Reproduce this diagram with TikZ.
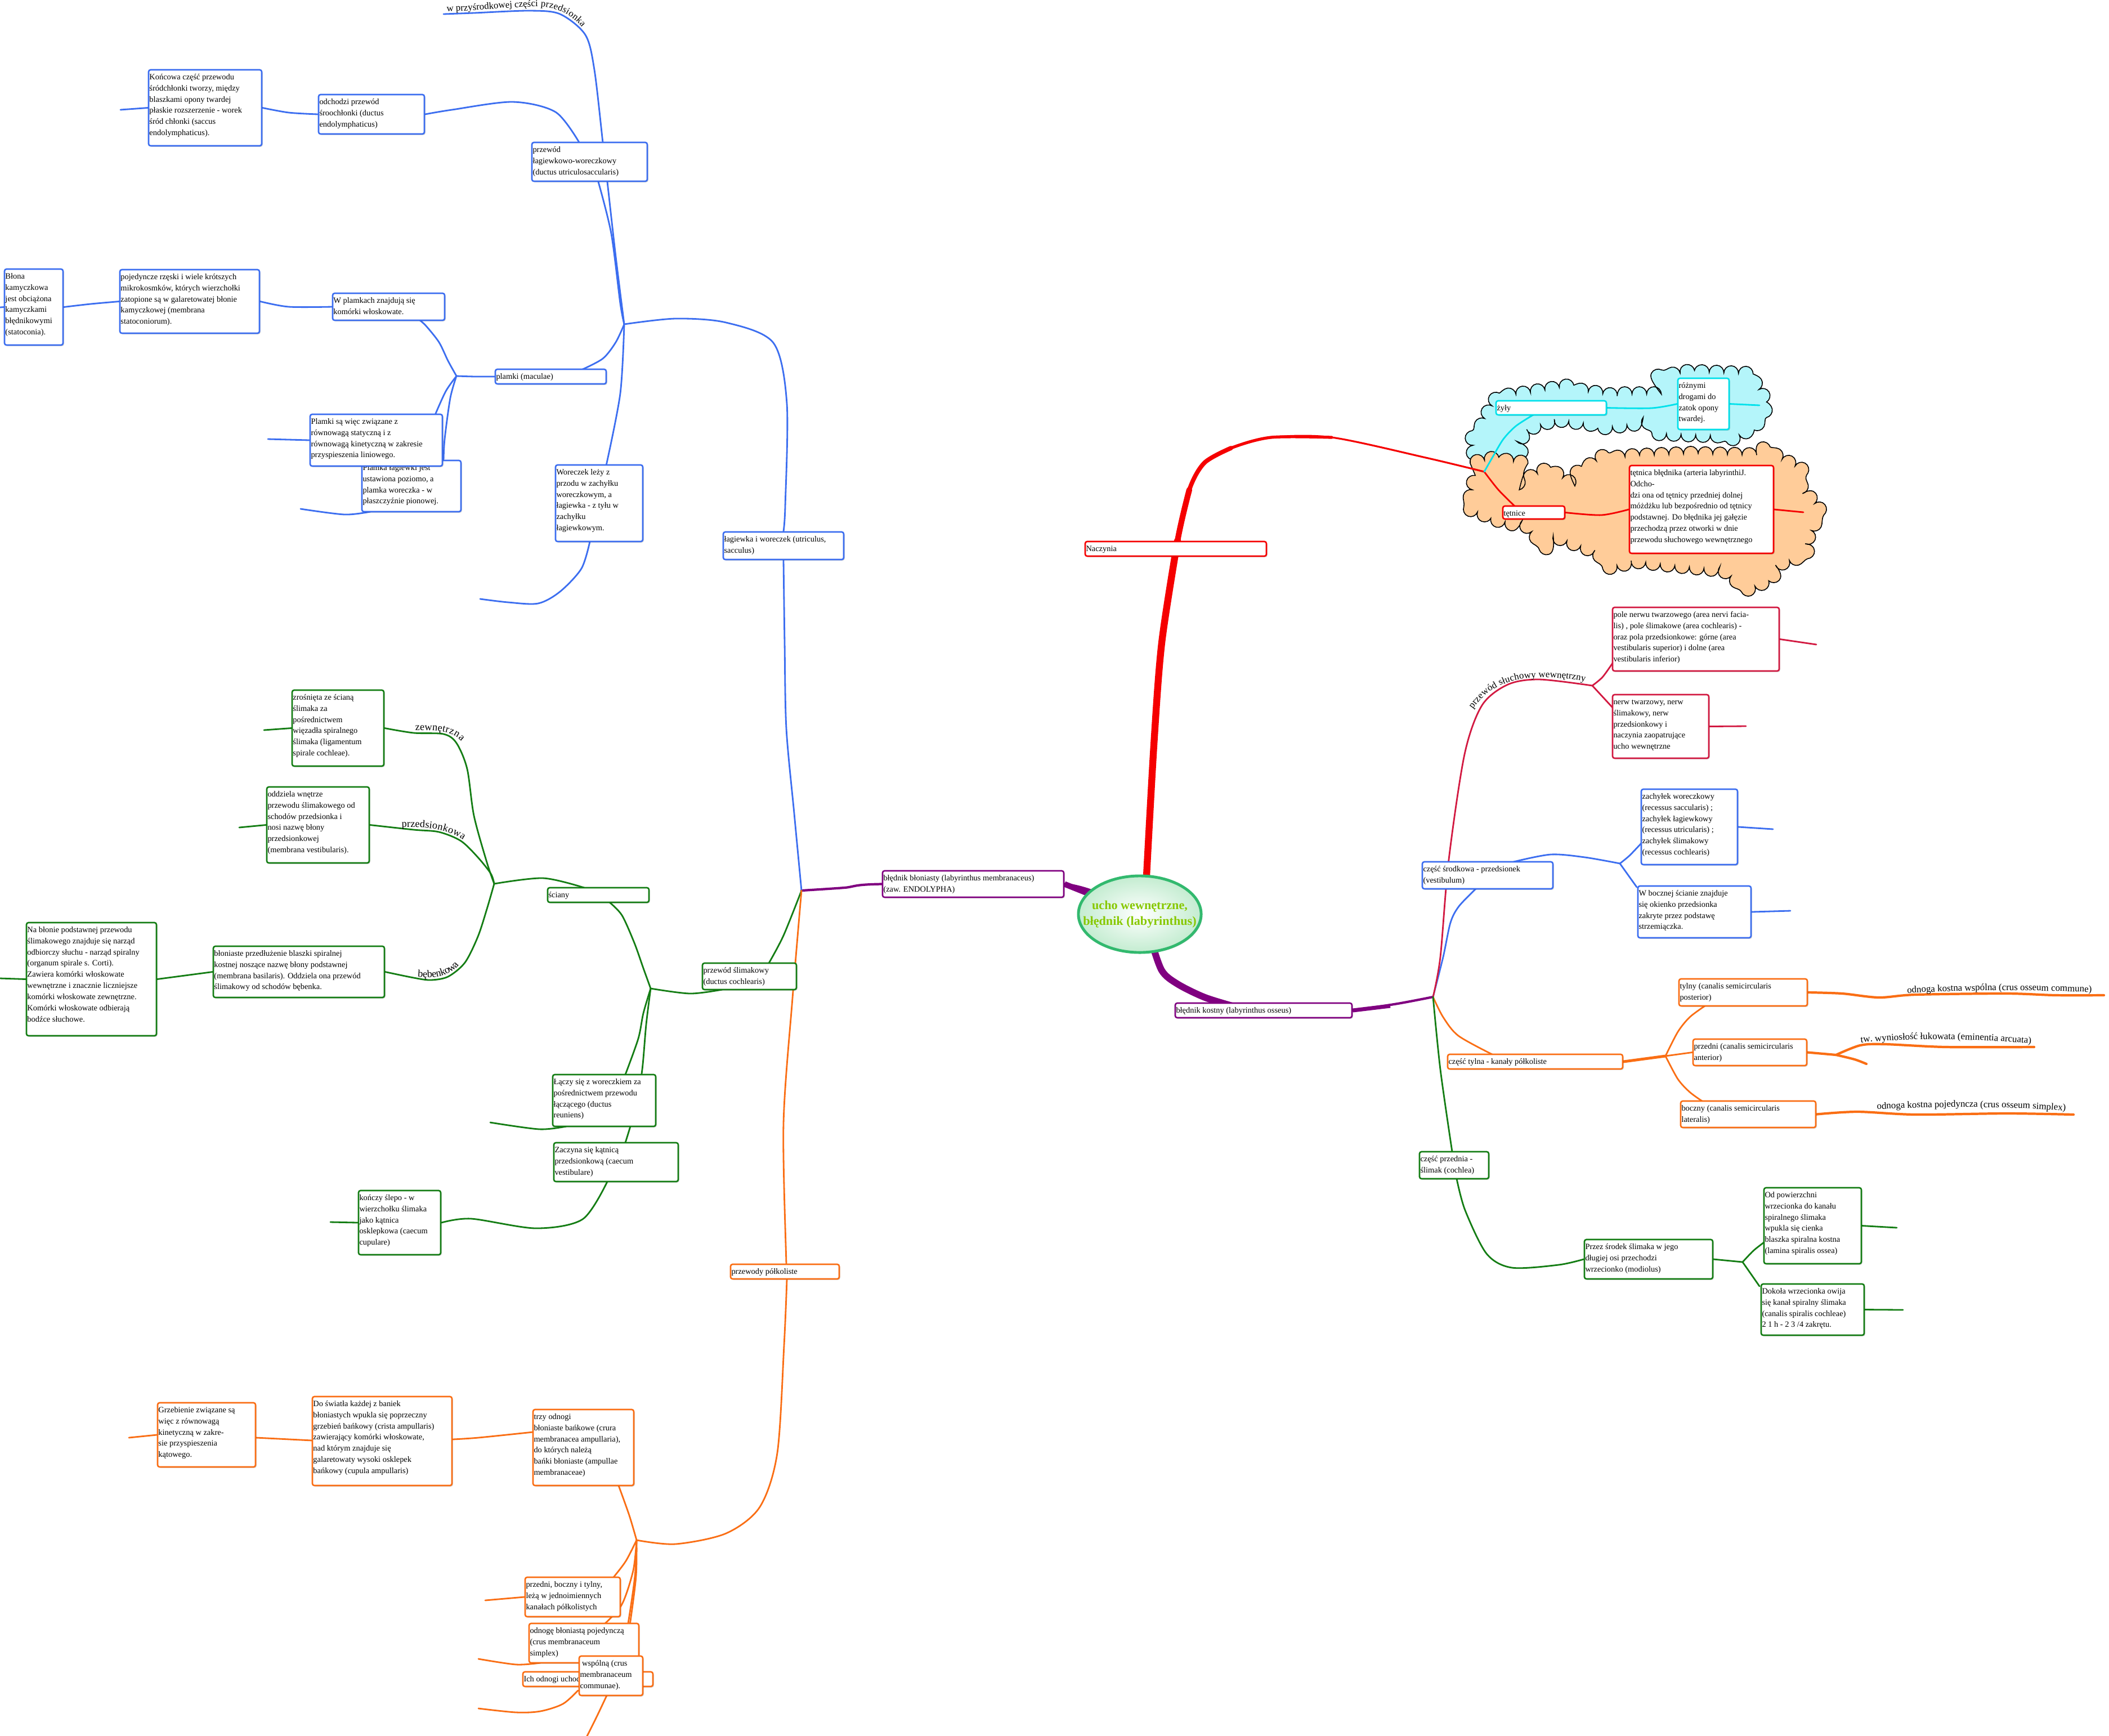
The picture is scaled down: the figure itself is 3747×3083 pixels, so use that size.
\documentclass[tikz,border=0pt]{standalone}
\usepackage{fontspec}
\setmainfont{Liberation Serif}
\usetikzlibrary{fit,shadows,decorations.text,decorations.pathmorphing,shapes.geometric}
\newfontfamily\tmsfont{Liberation Serif}
\newcommand{\bfnt}{\tmsfont\fontsize{4.1}{5.65}\selectfont}
\newcommand{\lfnt}{\tmsfont\fontsize{4.8}{6}\selectfont}
\newcommand{\gfnt}{\tmsfont\fontsize{5.2}{6}\selectfont}
\definecolor{cblue}{RGB}{60,110,240}
\definecolor{cgreen}{RGB}{20,125,20}
\definecolor{corange}{RGB}{250,110,20}
\definecolor{cpurple}{RGB}{128,0,128}
\definecolor{cred}{RGB}{245,0,0}
\definecolor{ccrim}{RGB}{210,25,65}
\definecolor{ccyan}{RGB}{0,225,235}
\definecolor{cloudc}{RGB}{180,245,250}
\definecolor{cloudo}{RGB}{255,204,153}
\definecolor{elgreen}{RGB}{195,236,208}
\definecolor{elborder}{RGB}{50,185,110}
\definecolor{eltext}{RGB}{135,200,0}
\pgfdeclarelayer{cloudl}
\pgfdeclarelayer{linel}
\pgfsetlayers{cloudl,linel,main}
\tikzset{
  tbox/.style={draw=#1, fill=white, line width=0.75pt, rounded corners=1pt, inner sep=0pt,
    drop shadow={shadow xshift=0.5pt, shadow yshift=-0.5pt, fill=black, opacity=0.18}},
  con/.style={line width=0.8pt, line cap=round, line join=round},
  cloudshape/.style={draw=black, line width=0.45pt, decorate,
    decoration={bumps, segment length=0.52cm, amplitude=0.13cm}},
}
\newcommand{\topicbox}[7]{%
  \node[tbox=#6, fit={(#2,#3) (#4,#5)}] (#1) {};
  \node[anchor=north west, inner sep=0pt, align=left, font=\bfnt]
    (#1t) at ([xshift=0.6pt,yshift=-1.2pt]#1.north west) {\rule{0pt}{3.9pt}#7};
}
\begin{document}
\begin{tikzpicture}[x=0.01cm,y=-0.01cm]
\useasboundingbox (0,0) rectangle (3747,3083);
% junctions
\coordinate (H1) at (1109,576);
\coordinate (H2) at (811,668);
\coordinate (J1) at (1424,1582);
\coordinate (J2) at (2546,1771);
\coordinate (J3) at (2829,1218);
\coordinate (J4) at (2878,1534);
\coordinate (J5) at (2959,1876);
\coordinate (J6) at (3096,2242);
\coordinate (J7) at (1156,1756);
\coordinate (J8) at (878,1570);
\coordinate (J9) at (1131,2736);
\coordinate (J10) at (3262,1874);
\coordinate (RJ) at (2637,838);
\coordinate (eprz) at (788,25);
\coordinate (e1) at (214,195);
\coordinate (e2) at (0,546);
\coordinate (e3) at (476,780);
\coordinate (e4) at (534,904);
\coordinate (e5) at (853,1064);
\coordinate (e6) at (3150,1473);
\coordinate (e7) at (3181,1618);
\coordinate (e8) at (3227,1145);
\coordinate (e9) at (3102,1290);
\coordinate (e10) at (3738,1768);
\coordinate (e11) at (3614,1860);
\coordinate (e12) at (3316,1890);
\coordinate (e13) at (3684,1980);
\coordinate (e14) at (3370,2181);
\coordinate (e15) at (3381,2327);
\coordinate (e16) at (0,1738);
\coordinate (e17) at (469,1297);
\coordinate (e18) at (425,1470);
\coordinate (e19) at (871,1994);
\coordinate (e20) at (587,2171);
\coordinate (e21) at (229,2554);
\coordinate (e22) at (1040,3090);
\coordinate (e23) at (850,3035);
\coordinate (e24) at (862,2843);
\coordinate (e25) at (850,2947);
\coordinate (e26) at (3204,910);
\coordinate (e27) at (3126,720);
\coordinate (ctrR) at (2036,1575);
\coordinate (ctrB) at (2045,1670);

% ---------- boxes: blue ----------
\topicbox{kon}{264}{124}{465}{259}{cblue}{Końcowa część przewodu\\śródchłonki tworzy, między\\blaszkami opony twardej\\płaskie rozszerzenie - worek\\śród chłonki (saccus\\endolymphaticus).}
\topicbox{odch}{566}{168}{754}{238}{cblue}{odchodzi przewód\\śroochłonki (ductus\\endolymphaticus)}
\topicbox{plw}{945}{253}{1150}{322}{cblue}{przewód\\łagiewkowo-woreczkowy\\(ductus utriculosaccularis)}
\topicbox{blona}{8}{478}{112}{613}{cblue}{Błona\\kamyczkowa\\jest obciążona\\kamyczkami\\błędnikowymi\\(statoconia).}
\topicbox{poj}{213}{479}{461}{592}{cblue}{pojedyncze rzęski i wiele krótszych\\mikrokosmków, których wierzchołki\\zatopione są w galaretowatej błonie\\kamyczkowej (membrana\\statoconiorum).}
\topicbox{wpl}{591}{521}{790}{569}{cblue}{W plamkach znajdują się\\komórki włoskowate.}
\topicbox{plamki}{880}{656}{1077}{682}{cblue}{plamki (maculae)}
\topicbox{plamka}{643}{818}{819}{909}{cblue}{Plamka łagiewki jest\\ustawiona poziomo, a\\plamka woreczka - w\\płaszczyźnie pionowej.}
\topicbox{plamkib}{551}{736}{786}{828}{cblue}{Plamki są więc związane z\\równowagą statyczną i z\\równowagą kinetyczną w zakresie\\przyspieszenia liniowego.}
\topicbox{worek}{987}{826}{1142}{962}{cblue}{Woreczek leży z\\przodu w zachyłku\\woreczkowym, a\\łagiewka - z tyłu w\\zachyłku\\łagiewkowym.}
\topicbox{lag}{1285}{945}{1499}{994}{cblue}{łagiewka i woreczek (utriculus,\\sacculus)}
\topicbox{vest}{2527}{1531}{2759}{1579}{cblue}{część środkowa - przedsionek\\(vestibulum)}
\topicbox{zach}{2916}{1402}{3087}{1536}{cblue}{zachyłek woreczkowy\\(recessus saccularis) ;\\zachyłek łagiewkowy\\(recessus utricularis) ;\\zachyłek ślimakowy\\(recessus cochlearis)}
\topicbox{boczn}{2910}{1574}{3111}{1666}{cblue}{W bocznej ścianie znajduje\\się okienko przedsionka\\zakryte przez podstawę\\strzemiączka.}
% purple
\topicbox{blon}{1568}{1547}{1890}{1594}{cpurple}{błędnik błoniasty (labyrinthus membranaceus)\\(zaw. ENDOLYPHA)}
\topicbox{kost}{2088}{1782}{2402}{1808}{cpurple}{błędnik kostny (labyrinthus osseus)}
% red / cyan / crimson
\topicbox{nacz}{1928}{962}{2250}{988}{cred}{Naczynia}
\topicbox{tetnice}{2670}{899}{2780}{922}{cred}{tętnice}
\topicbox{tetnica}{2895}{827}{3151}{983}{cred}{tętnica błędnika (arteria labyrinthiJ.\\Odcho-\\dzi ona od tętnicy przedniej dolnej\\móżdżku lub bezpośrednio od tętnicy\\podstawnej. Do błędnika jej gałęzie\\przechodzą przez otworki w dnie\\przewodu słuchowego wewnętrznego}
\topicbox{zyly}{2658}{712}{2854}{737}{ccyan}{żyły}
\topicbox{rozn}{2981}{672}{3072}{763}{ccyan}{różnymi\\drogami do\\zatok opony\\twardej.}
\topicbox{pole}{2865}{1079}{3161}{1192}{ccrim}{pole nerwu twarzowego (area nervi facia-\\lis) , pole ślimakowe (area cochlearis) -\\oraz pola przedsionkowe: górne (area\\vestibularis superior) i dolne (area\\vestibularis inferior)}
\topicbox{nerw}{2865}{1234}{3036}{1347}{ccrim}{nerw twarzowy, nerw\\ślimakowy, nerw\\przedsionkowy i\\naczynia zaopatrujące\\ucho wewnętrzne}
% orange right
\topicbox{tylna}{2572}{1873}{2883}{1899}{corange}{część tylna - kanały półkoliste}
\topicbox{tylny}{2983}{1739}{3211}{1787}{corange}{tylny (canalis semicircularis\\posterior)}
\topicbox{przedni}{3008}{1846}{3210}{1893}{corange}{przedni (canalis semicircularis\\anterior)}
\topicbox{boczny}{2986}{1956}{3226}{2003}{corange}{boczny (canalis semicircularis\\lateralis)}
% green right
\topicbox{przed}{2522}{2046}{2645}{2094}{cgreen}{część przednia -\\ślimak (cochlea)}
\topicbox{przez}{2815}{2202}{3043}{2272}{cgreen}{Przez środek ślimaka w jego\\długiej osi przechodzi\\wrzecionko (modiolus)}
\topicbox{odpow}{3134}{2110}{3307}{2245}{cgreen}{Od powierzchni\\wrzecionka do kanału\\spiralnego ślimaka\\wpukla się cienka\\blaszka spiralna kostna\\(lamina spiralis ossea)}
\topicbox{dokola}{3129}{2281}{3312}{2372}{cgreen}{Dokoła wrzecionka owija\\się kanał spiralny ślimaka\\(canalis spiralis cochleae)\\2 1 h - 2 3 /4 zakrętu.}
% green left
\topicbox{slim}{1248}{1711}{1415}{1758}{cgreen}{przewód ślimakowy\\(ductus cochlearis)}
\topicbox{sciany}{973}{1577}{1153}{1603}{cgreen}{ściany}
\topicbox{zros}{519}{1226}{682}{1361}{cgreen}{zrośnięta ze ścianą\\ślimaka za\\pośrednictwem\\więzadła spiralnego\\ślimaka (ligamentum\\spirale cochleae).}
\topicbox{oddz}{474}{1398}{656}{1533}{cgreen}{oddziela wnętrze\\przewodu ślimakowego od\\schodów przedsionka i\\nosi nazwę błony\\przedsionkowej\\(membrana vestibularis).}
\topicbox{blonb}{379}{1681}{683}{1772}{cgreen}{błoniaste przedłużenie blaszki spiralnej\\kostnej noszące nazwę błony podstawnej\\(membrana basilaris). Oddziela ona przewód\\ślimakowy od schodów bębenka.}
\topicbox{nabl}{47}{1639}{278}{1840}{cgreen}{Na błonie podstawnej przewodu\\ślimakowego znajduje się narząd\\odbiorczy słuchu - narząd spiralny\\(organum spirale s. Corti).\\Zawiera komórki włoskowate\\wewnętrzne i znacznie liczniejsze\\komórki włoskowate zewnętrzne.\\Komórki włoskowate odbierają\\bodźce słuchowe.}
\topicbox{laczy}{982}{1909}{1165}{2001}{cgreen}{Łączy się z woreczkiem za\\pośrednictwem przewodu\\łączącego (ductus\\reuniens)}
\topicbox{zacz}{984}{2030}{1205}{2099}{cgreen}{Zaczyna się kątnicą\\przedsionkową (caecum\\vestibulare)}
\topicbox{konczy}{637}{2115}{783}{2229}{cgreen}{kończy ślepo - w\\wierzchołku ślimaka\\jako kątnica\\osklepkowa (caecum\\cupulare)}
% orange left
\topicbox{polk}{1298}{2246}{1491}{2272}{corange}{przewody półkoliste}
\topicbox{trzy}{947}{2504}{1126}{2639}{corange}{trzy odnogi\\błoniaste bańkowe (crura\\membranacea ampullaria),\\do których należą\\bańki błoniaste (ampullae\\membranaceae)}
\topicbox{dosw}{555}{2481}{803}{2639}{corange}{Do światła każdej z baniek\\błoniastych wpukla się poprzeczny\\grzebień bańkowy (crista ampullaris)\\zawierający komórki włoskowate,\\nad którym znajduje się\\galaretowaty wysoki osklepek\\bańkowy (cupula ampullaris)}
\topicbox{grzeb}{280}{2492}{454}{2606}{corange}{Grzebienie związane są\\więc z równowagą\\kinetyczną w zakre-\\sie przyspieszenia\\kątowego.}
\topicbox{przboc}{933}{2802}{1102}{2872}{corange}{przedni, boczny i tylny,\\leżą w jednoimiennych\\kanałach półkolistych}
\topicbox{odnoge}{940}{2884}{1135}{2954}{corange}{odnogę błoniastą pojedynczą\\(crus membranaceum\\simplex)}
\topicbox{ich}{929}{2970}{1160}{2996}{corange}{Ich odnogi uchodzą}
\topicbox{wspol}{1029}{2942}{1142}{3012}{corange}{\ wspólną (crus\\membranaceum\\communae).}

% ---------- central topic ----------
\node[ellipse, draw=elborder, line width=1.4pt, shade, shading=radial, inner color=white, outer color=elgreen,
  minimum width=2.18cm, minimum height=1.36cm, inner sep=0pt,
  drop shadow={shadow xshift=0.6pt, shadow yshift=-0.6pt, fill=black, opacity=0.15}] (ctr) at (2025,1624) {};
\node[align=center, inner sep=0pt, font=\tmsfont\bfseries\fontsize{6.3}{8.1}\selectfont, text=eltext] (ctrt) at (ctr.center)
  {ucho wewnętrzne,\\błędnik (labyrinthus)};

% ---------- labels along branches ----------
\path[decorate, decoration={text along path, text={|\lfnt|w przyśrodkowej części przedsionka}, text align=left, raise=1.2pt}]
  (794,25) .. controls (860,22) and (925,15) .. (960,16) .. controls (995,18) and (1022,35) .. (1038,62) .. controls (1048,80) and (1055,105) .. (1060,150);
\path[decorate, decoration={text along path, text={|\lfnt|przewód słuchowy wewnętrzny}, text align=left, raise=1.2pt}]
  (2620,1262) .. controls (2640,1234) and (2665,1217) .. (2705,1210) .. controls (2750,1204) and (2795,1209) .. (2850,1222);
\path[decorate, decoration={text along path, text={|\gfnt|zewnętrzna}, text align=left, raise=1.2pt}]
  (738,1302) .. controls (775,1301) and (800,1303) .. (815,1318) .. controls (830,1335) and (838,1375) .. (842,1430);
\path[decorate, decoration={text along path, text={|\gfnt|przedsionkowa}, text align=left, raise=1.2pt}]
  (714,1474) .. controls (760,1472) and (795,1478) .. (820,1495) .. controls (838,1508) and (850,1530) .. (862,1565);
\path[decorate, decoration={text along path, text={|\gfnt|bębenkowa}, text align=left, raise=1.2pt}]
  (742,1740) .. controls (780,1743) and (805,1735) .. (820,1715) .. controls (833,1695) and (843,1665) .. (852,1625);
\path[decorate, decoration={text along path, text={|\lfnt|odnoga kostna wspólna (crus osseum commune)}, text align=center, raise=1.2pt}]
  (3360,1770) .. controls (3480,1762) and (3620,1762) .. (3745,1768);
\path[decorate, decoration={text along path, text={|\lfnt|tw. wyniosłość łukowata (eminentia arcuata)}, text align=center, raise=1.2pt}]
  (3290,1858) .. controls (3400,1846) and (3520,1850) .. (3625,1859);
\path[decorate, decoration={text along path, text={|\lfnt|odnoga kostna pojedyncza (crus osseum simplex)}, text align=center, raise=1.2pt}]
  (3315,1976) .. controls (3450,1968) and (3580,1970) .. (3690,1979);

% ---------- clouds ----------
\begin{pgfonlayer}{cloudl}
\fill[white] (0,0) rectangle (3747,3083);
\path[cloudshape, fill=cloudc] (2619,817) -- (2617,790) -- (2637,745) -- (2660,705) -- (2713,698) -- (2773,688) -- (2850,700) -- (2929,700) -- (2945,670) -- (3000,660) -- (3108,664) -- (3130,700) -- (3135,725) -- (3120,757) -- (3086,775) -- (3000,772) -- (2952,770) -- (2929,750) -- (2862,758) -- (2764,745) -- (2729,757) -- (2706,775) -- (2702,803) -- (2684,817) -- cycle;
\path[cloudshape, fill=cloudo] (2612,823) -- (2650,815) -- (2690,820) -- (2697,858) -- (2751,832) -- (2790,858) -- (2800,843) -- (2840,816) -- (2900,810) -- (3000,806) -- (3099,808) -- (3135,797) -- (3165,815) -- (3193,830) -- (3200,865) -- (3226,897) -- (3231,915) -- (3210,960) -- (3211,985) -- (3175,997) -- (3144,1030) -- (3104,1047) -- (3063,1013) -- (2980,1005) -- (2907,997) -- (2862,1007) -- (2836,980) -- (2782,960) -- (2746,973) -- (2715,937) -- (2666,925) -- (2608,903) -- (2617,863) -- cycle;
\end{pgfonlayer}

% ---------- connectors ----------
\begin{pgfonlayer}{linel}
% main red (tapered)
\draw[cred, line width=0.9pt, line cap=round] plot[smooth] coordinates {(ctrR) (2050,1324) (2064,1142) (2092,961) (2113,870) (2140,822) (2187,796) (2258,777) (2366,777) (2533,813) (RJ)};
\draw[cred, line width=1.5pt, line cap=round] plot[smooth] coordinates {(ctrR) (2050,1324) (2064,1142) (2092,961) (2113,870) (2140,822) (2187,796) (2258,777) (2366,777)};
\draw[cred, line width=2.2pt, line cap=round] plot[smooth] coordinates {(ctrR) (2050,1324) (2064,1142) (2092,961) (2113,870) (2140,822) (2187,796)};
\draw[cred, line width=2.9pt, line cap=round] plot[smooth] coordinates {(ctrR) (2050,1324) (2064,1142) (2092,961) (2113,870)};
\draw[cred, line width=3.5pt, line cap=round] plot[smooth] coordinates {(ctrR) (2050,1324) (2064,1142) (2092,961)};
% purple
\draw[cpurple, line width=1.2pt, line cap=round] plot[smooth] coordinates {(J1) (1500,1577) (blon.west) (blon.east) (ctr.center)};
\draw[cpurple, line width=2.9pt] (blon.east) -- (ctr.center);
\draw[cpurple, line width=3.4pt, line cap=round] plot[smooth] coordinates {(ctrB) (2064,1724) (2092,1748) (2141,1772) (2200,1790)};
\draw[cpurple, line width=1.2pt, line cap=round] plot[smooth] coordinates {(2380,1797) (kost.east) (2483,1783) (J2)};
\draw[cpurple, line width=2pt] (kost.east) -- (2470,1787);
% blue left
\draw[con,cblue] plot[smooth] coordinates {(J1) (1411,1445) (1397,1294) (1394,1142) (lag.south)};
\draw[con,cblue] plot[smooth] coordinates {(lag.north) (1395,900) (1398,717) (1374,609) (1290,573) (1200,566) (H1)};
\draw[con,cblue] plot[smooth] coordinates {(H1) (1094,456) (1079,323) (1071,253) (1056,124) (1040,62) (995,25) (941,19) (842,23) (eprz)};
\draw[con,cblue] plot[smooth] coordinates {(H1) (1102,539) (1086,415) (1063,323)};
\draw[con,cblue] plot[smooth] coordinates {(odch.east) (803,195) (911,181) (987,199) (1029,253)};
\draw[con,cblue] plot[smooth] coordinates {(kon.east) (513,200) (odch.west)};
\draw[con,cblue] (kon.west) -- (e1);
\draw[con,cblue] plot[smooth] coordinates {(H1) (1094,608) (1071,637) (1033,657)};
\draw[con,cblue] plot[smooth] coordinates {(plamki.west) (845,669) (H2)};
\draw[con,cblue] plot[smooth] coordinates {(H2) (796,641) (780,608) (757,579) (746,569)};
\draw[con,cblue] plot[smooth] coordinates {(wpl.west) (513,545) (poj.east)};
\draw[con,cblue] plot[smooth] coordinates {(poj.west) (161,540) (blona.east)};
\draw[con,cblue] (blona.west) -- (e2);
\draw[con,cblue] plot[smooth] coordinates {(H2) (792,695) (773,737)};
\draw[con,cblue] plot[smooth] coordinates {(H2) (800,707) (790,780) (788,819)};
\draw[con,cblue] (plamkib.west) -- (e3);
\draw[con,cblue] plot[smooth] coordinates {(658,909) (612,914) (e4)};
\draw[con,cblue] plot[smooth] coordinates {(H1) (1102,699) (1077,827)};
\draw[con,cblue] plot[smooth] coordinates {(1048,962) (1033,1010) (995,1051) (956,1072) (903,1070) (e5)};
% blue right
\draw[con,cblue] plot[smooth] coordinates {(J2) (2564,1700) (2577,1639) (2592,1610) (2622,1579)};
\draw[con,cblue] plot[smooth] coordinates {(2689,1531) (2755,1518) (2816,1523) (J4)};
\draw[con,cblue] plot[smooth] coordinates {(J4) (2895,1520) (2916,1498)};
\draw[con,cblue] (J4) -- (2908,1576);
\draw[con,cblue] (zach.east) -- (e6);
\draw[con,cblue] (boczn.east) -- (e7);
% crimson
\draw[con,ccrim] plot[smooth] coordinates {(J2) (2559,1700) (2574,1527) (2602,1340) (2633,1253) (2679,1216) (2735,1207) (J3)};
\draw[con,ccrim] plot[smooth] coordinates {(J3) (2847,1203) (2865,1178)};
\draw[con,ccrim] (J3) -- (2865,1257);
\draw[con,ccrim] (pole.east) -- (e8);
\draw[con,ccrim] (nerw.east) -- (e9);
% orange right
\draw[con,corange] plot[smooth] coordinates {(J2) (2564,1807) (2591,1840) (2651,1873)};
\draw[con,corange,line width=1.4pt] (tylna.east) -- (J5);
\draw[con,corange] plot[smooth] coordinates {(J5) (2981,1833) (3002,1807) (3029,1787)};
\draw[con,corange] (J5) -- (przedni.west);
\draw[con,corange] plot[smooth] coordinates {(J5) (2981,1917) (3002,1940) (3024,1956)};
\draw[con,corange,line width=1.2pt] plot[smooth] coordinates {(tylny.east) (3273,1765) (3338,1772) (3403,1767) (3565,1765) (3652,1768) (e10)};
\draw[con,corange,line width=1.2pt] (przedni.east) -- (J10);
\draw[con,corange,line width=1.2pt] plot[smooth] coordinates {(J10) (3305,1857) (3349,1855) (3457,1860) (e11)};
\draw[con,corange,line width=1.2pt] plot[smooth] coordinates {(J10) (3295,1882) (e12)};
\draw[con,corange,line width=1.2pt] plot[smooth] coordinates {(boczny.east) (3300,1975) (3403,1980) (3565,1978) (e13)};
% green right
\draw[con,cgreen] plot[smooth] coordinates {(J2) (2559,1900) (2580,2046)};
\draw[con,cgreen] plot[smooth] coordinates {(2588,2094) (2603,2150) (2641,2227) (2686,2252) (2769,2247) (przez.west)};
\draw[con,cgreen] (przez.east) -- (J6);
\draw[con,cgreen] plot[smooth] coordinates {(J6) (3115,2222) (3134,2207)};
\draw[con,cgreen] plot[smooth] coordinates {(J6) (3110,2262) (3126,2285)};
\draw[con,cgreen] (odpow.east) -- (e14);
\draw[con,cgreen] (dokola.east) -- (e15);
% green left
\draw[con,cgreen] plot[smooth] coordinates {(J1) (1392,1662) (1366,1711)};
\draw[con,cgreen] plot[smooth] coordinates {(1283,1758) (1226,1765) (J7)};
\draw[con,cgreen] plot[smooth] coordinates {(J7) (1143,1720) (1127,1675) (1105,1626) (1083,1603)};
\draw[con,cgreen] plot[smooth] coordinates {(1038,1577) (965,1560) (J8)};
\draw[con,cgreen] plot[smooth] coordinates {(J8) (865,1532) (842,1449) (830,1366) (811,1320) (788,1304) (735,1302) (zros.east)};
\draw[con,cgreen] plot[smooth] coordinates {(J8) (872,1552) (849,1523) (819,1494) (780,1478) (735,1474) (oddz.east)};
\draw[con,cgreen] plot[smooth] coordinates {(J8) (865,1615) (849,1664) (826,1710) (796,1735) (765,1741) (735,1737) (blonb.east)};
\draw[con,cgreen] (blonb.west) -- (nabl.east);
\draw[con,cgreen] (nabl.west) -- (e16);
\draw[con,cgreen] (zros.west) -- (e17);
\draw[con,cgreen] (oddz.west) -- (e18);
\draw[con,cgreen] plot[smooth] coordinates {(J7) (1143,1800) (1134,1845) (1111,1909)};
\draw[con,cgreen] plot[smooth] coordinates {(J7) (1148,1820) (1141,1900) (1130,1965) (1111,2030)};
\draw[con,cgreen] plot[smooth] coordinates {(1006,2001) (958,2006) (e19)};
\draw[con,cgreen] plot[smooth] coordinates {(1079,2099) (1035,2166) (952,2182) (837,2165) (konczy.east)};
\draw[con,cgreen] (konczy.west) -- (e20);
% orange left
\draw[con,corange] plot[smooth] coordinates {(J1) (1408,1773) (1392,1996) (1397,2246) (1398,2272) (1393,2390) (1381,2581) (1350,2677) (1290,2724) (1200,2743) (J9)};
\draw[con,corange] plot[smooth] coordinates {(J9) (1118,2692) (1099,2639)};
\draw[con,corange] plot[smooth] coordinates {(947,2544) (850,2554) (804,2557)};
\draw[con,corange] (555,2559) -- (455,2554);
\draw[con,corange] (grzeb.west) -- (e21);
\draw[con,corange] plot[smooth] coordinates {(J9) (1112,2773) (1090,2802)};
\draw[con,corange] plot[smooth] coordinates {(J9) (1125,2790) (1105,2850) (1075,2884)};
\draw[con,corange] plot[smooth] coordinates {(J9) (1130,2800) (1120,2880) (1110,2942)};
\draw[con,corange] plot[smooth] coordinates {(J9) (1128,2800) (1115,2890) (1100,2970)};
\draw[con,corange] plot[smooth] coordinates {(1078,3012) (1060,3050) (e22)};
\draw[con,corange] plot[smooth] coordinates {(1027,3003) (1000,3027) (960,3040) (917,3042) (e23)};
\draw[con,corange] (przboc.west) -- (e24);
\draw[con,corange] plot[smooth] coordinates {(960,2954) (917,2957) (e25)};
% red / cyan details
\draw[con,cred] plot[smooth] coordinates {(RJ) (2662,870) (2691,899)};
\draw[con,cred] plot[smooth] coordinates {(tetnice.east) (2845,915) (tetnica.west)};
\draw[con,cred] (tetnica.east) -- (e26);
\draw[con,ccyan] plot[smooth] coordinates {(RJ) (2653,810) (2671,780) (2693,757) (2724,737)};
\draw[con,ccyan] plot[smooth] coordinates {(zyly.east) (2934,725) (rozn.west)};
\draw[con,ccyan] (rozn.east) -- (e27);
\end{pgfonlayer}
\end{tikzpicture}
\end{document}
